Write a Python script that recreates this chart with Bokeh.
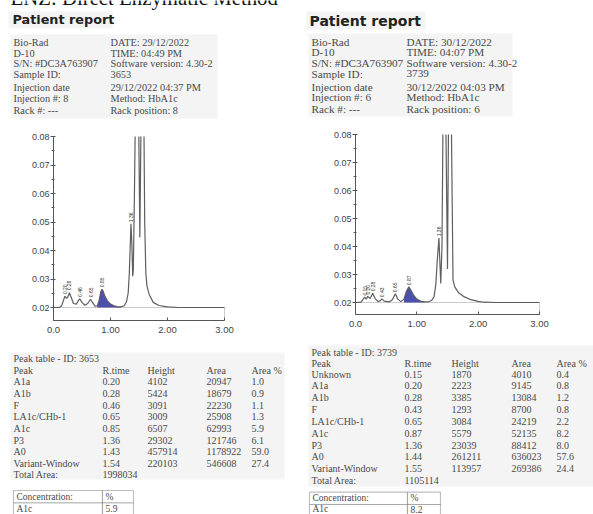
import math
import numpy as np
from bokeh.plotting import figure
from bokeh.models import ColumnDataSource, Range1d, FixedTicker, BoxAnnotation, LinearAxis
from bokeh.core.properties import value
from bokeh.embed import file_html
from bokeh.resources import INLINE

NAN = float("nan")

# ------------------------------------------------------------------ data
page_title = "ENZ: Direct Enzymatic Method"

left_info_labels = ["Bio-Rad", "D-10", "S/N: #DC3A763907", "Sample ID:", "Injection date",
                    "Injection #: 8", "Rack #: ---"]
left_info_values = ["DATE: 29/12/2022", "TIME:  04:49 PM", "Software version: 4.30-2", "3653",
                    "29/12/2022 04:37 PM", "Method: HbA1c", "Rack position: 8"]
right_info_labels = ["Bio-Rad", "D-10", "S/N: #DC3A763907", "Sample ID:", "Injection date",
                     "Injection #: 6", "Rack #: ---"]
right_info_values = ["DATE: 30/12/2022", "TIME:  04:07 PM", "Software version: 4.30-2", "3739",
                     "30/12/2022 04:03 PM", "Method: HbA1c", "Rack position: 6"]

table_header = ["Peak", "R.time", "Height", "Area", "Area %"]

left_sample_id = "3653"
left_peaks = ["A1a", "A1b", "F", "LA1c/CHb-1", "A1c", "P3", "A0", "Variant-Window"]
left_rtime = [0.20, 0.28, 0.46, 0.65, 0.85, 1.36, 1.43, 1.54]
left_height = [4102, 5424, 3091, 3009, 6507, 29302, 457914, 220103]
left_area = [20947, 18679, 22230, 25908, 62993, 121746, 1178922, 546608]
left_area_pct = [1.0, 0.9, 1.1, 1.3, 5.9, 6.1, 59.0, 27.4]
left_total_area = 1998034
left_a1c_conc = 5.9

right_sample_id = "3739"
right_peaks = ["Unknown", "A1a", "A1b", "F", "LA1c/CHb-1", "A1c", "P3", "A0", "Variant-Window"]
right_rtime = [0.15, 0.20, 0.28, 0.43, 0.65, 0.87, 1.36, 1.44, 1.55]
right_height = [1870, 2223, 3385, 1293, 3084, 5579, 23039, 261211, 113957]
right_area = [4010, 9145, 13084, 8700, 24219, 52135, 88412, 636023, 269386]
right_area_pct = [0.4, 0.8, 1.2, 0.8, 2.2, 8.2, 8.0, 57.6, 24.4]
right_total_area = 1105114
right_a1c_conc = 8.2

# chromatogram traces (time in min, absorbance);
# NaN = trace runs off the top of the scale (above 0.08)
left_t = [0.00, 0.10, 0.14, 0.17, 0.20, 0.23, 0.25, 0.28, 0.31, 0.35, 0.40, 0.43, 0.46, 0.50,
          0.55, 0.60, 0.65, 0.69, 0.73, 0.77, 0.80, 0.83, 0.85, 0.87, 0.90, 0.95, 1.00, 1.06,
          1.12, 1.18, 1.24, 1.28, 1.31, 1.33, 1.35, 1.36, 1.375, 1.39, 1.40, 1.42, 1.432,
          1.46, 1.497, 1.515, 1.533, 1.56, 1.588, 1.60, 1.62, 1.64, 1.68, 1.75, 1.85, 2.00,
          2.20, 3.00]
left_a = [0.0200, 0.0200, 0.0205, 0.0222, 0.0240, 0.0232, 0.0236, 0.0252, 0.0236, 0.0214,
          0.0212, 0.0222, 0.0230, 0.0218, 0.0208, 0.0214, 0.0229, 0.0216, 0.0205, 0.0206,
          0.0225, 0.0255, 0.0264, 0.0258, 0.0240, 0.0222, 0.0212, 0.0206, 0.0203, 0.0202,
          0.0206, 0.0220, 0.0250, 0.0320, 0.0440, 0.0494, 0.0420, 0.0310, 0.0330, 0.0600,
          0.0800, NAN, 0.0800, 0.0446, 0.0800, NAN, 0.0800, 0.0500, 0.0320, 0.0275, 0.0245,
          0.0218, 0.0207, 0.0202, 0.0200, 0.0200]
left_a1c_window = (0.77, 1.18)

right_t = [0.00, 0.09, 0.12, 0.15, 0.175, 0.20, 0.24, 0.28, 0.32, 0.37, 0.40, 0.43, 0.47, 0.55,
           0.60, 0.65, 0.69, 0.74, 0.79, 0.83, 0.87, 0.90, 0.95, 1.00, 1.06, 1.12, 1.18, 1.24,
           1.28, 1.31, 1.33, 1.36, 1.375, 1.39, 1.41, 1.425, 1.45, 1.475, 1.50, 1.515, 1.54,
           1.565, 1.59, 1.62, 1.68, 1.76, 1.88, 2.00, 2.10, 2.30, 3.00]
right_a = [0.0200, 0.0201, 0.0210, 0.0219, 0.0212, 0.0222, 0.0214, 0.0233, 0.0214, 0.0203,
           0.0206, 0.0213, 0.0205, 0.0202, 0.0210, 0.0231, 0.0212, 0.0203, 0.0212, 0.0240,
           0.0256, 0.0245, 0.0225, 0.0212, 0.0205, 0.0202, 0.0202, 0.0207, 0.0220, 0.0265,
           0.0340, 0.0430, 0.0350, 0.0268, 0.0400, 0.0800, NAN, 0.0800, 0.0320, 0.0800, NAN,
           0.0800, 0.0280, 0.0255, 0.0235, 0.0222, 0.0210, 0.0204, 0.0201, 0.0200, 0.0200]
right_a1c_window = (0.77, 1.14)

y_ticks = [0.02, 0.03, 0.04, 0.05, 0.06, 0.07, 0.08]
y_minor_ticks = [0.025, 0.035, 0.045, 0.055, 0.065, 0.075]
x_ticks = [0, 1, 2, 3]
x_tick_labels = ["0.0", "1.00", "2.00", "3.00"]

# ------------------------------------------------------------------ style / page geometry
SERIF = "Liberation Serif"
SANS = "Liberation Sans"
BOLD = "DejaVu Sans"
TXT = "#4a4a4a"
AX = "#555555"
BG = "#f4f4f4"
W, H = 593, 514
X0, Y0 = 0, 0  # page offset of the figure

p = figure(width=W, height=H, x_range=Range1d(X0, X0 + W), y_range=Range1d(Y0 + H, Y0),
           output_backend="svg", toolbar_location=None, min_border=0,
           x_axis_location=None, y_axis_location=None)
p.outline_line_color = None
p.background_fill_color = "white"
p.grid.visible = False
p.xgrid.visible = False
p.ygrid.visible = False


def bg(l, r, t, b, color=BG):
    p.add_layout(BoxAnnotation(left=l, right=r, top=t, bottom=b, fill_color=color,
                               fill_alpha=1, line_color=None, level="underlay"))


def put(x, y, s, size, font=SERIF, color=TXT, style="normal", align="left", baseline="middle"):
    p.text(x=[x], y=[y], text=[s], text_font=value(font), text_font_size=f"{size}px",
           text_color=color, text_font_style=style, text_align=align, text_baseline=baseline)


def header(title_x, title_y, title_size, lx, vx, ys, size, labels, values, bgs):
    for b in bgs:
        bg(*b)
    put(title_x, title_y, "Patient report", title_size, font=BOLD, color="#222222",
        style="bold")
    for cx, vals in ((lx, labels), (vx, values)):
        src = ColumnDataSource(dict(x=[cx] * len(vals), y=ys, t=vals))
        p.text(x="x", y="y", text="t", source=src, text_font=value(SERIF),
               text_font_size=f"{size}px", text_color=TXT, text_baseline="middle")


x_ranges, y_ranges = {}, {}


def chart(name, px0, px1, py08, py02, pybot, t, a, rts, hts, win):
    sx = (px1 - px0) / 3.0          # pixels per minute
    sy = (py02 - py08) / 0.06       # pixels per absorbance unit
    xn, yn = "x" + name, "y" + name
    x_ranges[xn] = Range1d((X0 - px0) / sx, (X0 + W - px0) / sx)
    y_ranges[yn] = Range1d(0.08 - (Y0 + H - py08) / sy, 0.08 + (py08 - Y0) / sy)
    ymin = 0.02 - (pybot - py02) / sy
    kw = dict(x_range_name=xn, y_range_name=yn)

    ya = LinearAxis(fixed_location=0, bounds=(ymin, 0.08),
                    ticker=FixedTicker(ticks=y_ticks, minor_ticks=y_minor_ticks),
                    major_label_overrides={v: f"{v:.2f}" for v in y_ticks}, **kw)
    xa = LinearAxis(fixed_location=ymin, bounds=(0, 3), ticker=FixedTicker(ticks=x_ticks),
                    major_label_overrides=dict(zip(x_ticks, x_tick_labels)), **kw)
    for ax in (xa, ya):
        ax.axis_line_color = AX
        ax.major_tick_line_color = AX
        ax.minor_tick_line_color = AX
        ax.major_label_text_font = SANS
        ax.major_label_text_color = "#444444"
    ya.major_label_text_font_size = "9px"
    ya.major_tick_in = 2
    ya.major_tick_out = 3
    ya.minor_tick_in = 1
    ya.minor_tick_out = 2
    ya.major_label_standoff = 1
    xa.major_label_text_font_size = "9.5px"
    xa.major_tick_in = 3
    xa.major_tick_out = 0
    xa.major_label_standoff = 6
    p.add_layout(ya, "left")
    p.add_layout(xa, "below")

    p.add_layout(BoxAnnotation(left=0, right=3, bottom=ymin, top=0.02, fill_alpha=0,
                               line_color=AX, line_width=1, **kw))
    tt = np.array(t, dtype=float)
    aa = np.array(a, dtype=float)
    m = (tt >= win[0]) & (tt <= win[1])
    p.varea(x=tt[m], y1=np.full(m.sum(), 0.02), y2=aa[m], fill_color="#4a4fb0", **kw)
    p.line(tt, aa, line_color="#5e5e5e", line_width=1.2, **kw)
    lx, ly, lt = [], [], []
    for r, hh in zip(rts, hts):
        top = 0.02 + hh * 1e-6
        if top < 0.07:
            lx.append(r)
            ly.append(top + 0.0006)
            lt.append(f"{r:.2f}")
    p.text(x=lx, y=ly, text=lt, angle=math.pi / 2, text_font=value(SANS),
           text_font_size="5px", text_color="#333333", text_align="left",
           text_baseline="middle", **kw)


def table(sample_id, title_y, header_y, row_y0, row_dy, cols, peaks, rt, ht, ar, pct,
          total, total_y, conc, box, row_ys, bgs):
    for b in bgs:
        bg(*b)
    put(cols[0], title_y, f"Peak table  -  ID: {sample_id}", 10)
    for cx, s in zip(cols, table_header):
        put(cx, header_y, s, 10)
    ys = [row_y0 + i * row_dy for i in range(len(peaks))]
    columns = [peaks, [f"{v:.2f}" for v in rt], [str(v) for v in ht], [str(v) for v in ar],
               [f"{v:.1f}" for v in pct]]
    for cx, vals in zip(cols, columns):
        src = ColumnDataSource(dict(x=[cx] * len(vals), y=ys, t=vals))
        p.text(x="x", y="y", text="t", source=src, text_font=value(SERIF),
               text_font_size="10px", text_color=TXT, text_baseline="middle")
    put(cols[0], total_y, "Total Area:", 10)
    put(cols[1], total_y, str(total), 10)
    l, d, r, t, m, b = box
    for (bl, br, bt, bb) in [(l, d, t, m), (d, r, t, m), (l, d, m, b), (d, r, m, b)]:
        p.add_layout(BoxAnnotation(left=bl, right=br, top=bt, bottom=bb, fill_color="white",
                                   fill_alpha=1, line_color="#2a2a2a", line_width=1.2,
                                   level="underlay"))
    put(l + 3, row_ys[0], "Concentration:", 9.5)
    put(d + 3, row_ys[0], "%", 9.5)
    put(l + 3, row_ys[1], "A1c", 9.5)
    put(d + 3, row_ys[1], f"{conc:.1f}", 9.5)


# ------------------------------------------------------------------ page title (cropped at top)
put(10, -3.5, page_title, 20.8, color="#111111")

# ------------------------------------------------------------------ left report
header(12, 19.0, 12.8, 13, 110, [41.7, 52.5, 63.3, 74, 87.3, 98.3, 110],
       10.3, left_info_labels, left_info_values,
       [(8, 112, 11, 28), (10, 217, 34, 118)])
chart("L", 53, 224, 136, 307, 320, left_t, left_a, left_rtime, left_height, left_a1c_window)
table(left_sample_id, 358, 370, 381.3, 11.65, [13, 102, 147, 206, 251], left_peaks,
      left_rtime, left_height, left_area, left_area_pct, left_total_area, 474, left_a1c_conc,
      (13, 102, 133, 490, 502.5, 530), (496.3, 508), [(10, 284, 352, 479)])

# ------------------------------------------------------------------ right report
header(309, 20.0, 14, 311, 406, [41.7, 51.7, 62.7, 73.3, 86, 96.7, 108.3],
       11.2, right_info_labels, right_info_values,
       [(306, 425, 11, 29), (308, 512, 33, 116)])
chart("R", 355, 539, 134, 302, 314, right_t, right_a, right_rtime, right_height,
      right_a1c_window)
table(right_sample_id, 352, 363, 373.5, 11.85, [311, 404, 451, 511, 556], right_peaks,
      right_rtime, right_height, right_area, right_area_pct, right_total_area, 480,
      right_a1c_conc, (309, 407, 440, 491.7, 504, 530), (497.9, 508.5),
      [(308, 593, 345, 486)])

p.extra_x_ranges = x_ranges
p.extra_y_ranges = y_ranges

open("out.html", "w").write(file_html(p, INLINE))
